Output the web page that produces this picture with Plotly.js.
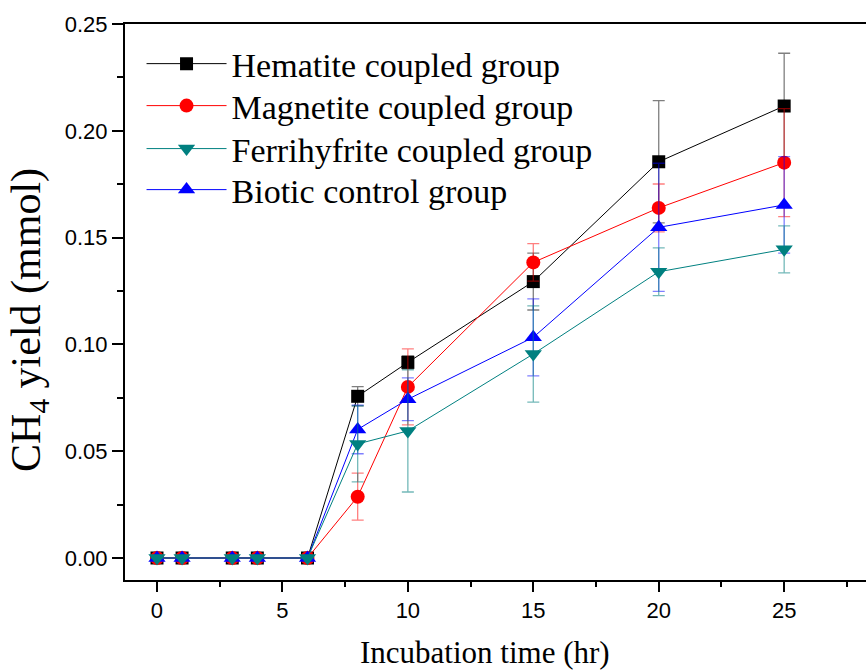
<!DOCTYPE html>
<html>
<head>
<meta charset="utf-8">
<script src="https://cdn.plot.ly/plotly-3.0.1.min.js"></script>
<style>
html,body{margin:0;padding:0;overflow:hidden;background:#fff;}
#chart{width:880px;height:671px;}
</style>
</head>
<body>
<div id="chart"></div>
<script>
// Incubation time (hr)
const time = [0, 1, 3, 4, 6, 8, 10, 15, 20, 25];

// CH4 yield (mmol)
const hematite    = [0, 0, 0, 0, 0, 0.0757, 0.0916, 0.1294, 0.1855, 0.2116];
const hematiteErr = [0, 0, 0, 0, 0, 0.0045, 0.0030, 0.0133, 0.0286, 0.0247];

const magnetite    = [0, 0, 0, 0, 0, 0.0287, 0.0801, 0.1384, 0.1639, 0.1851];
const magnetiteErr = [0, 0, 0, 0, 0, 0.0110, 0.0178, 0.0088, 0.0112, 0.0253];

const ferrihydrite    = [0, 0, 0, 0, 0, 0.0534, 0.0595, 0.0955, 0.1340, 0.1445];
const ferrihydriteErr = [0, 0, 0, 0, 0, 0.0178, 0.0286, 0.0225, 0.0112, 0.0110];

const biotic    = [0, 0, 0, 0, 0, 0.0602, 0.0743, 0.1033, 0.1548, 0.1653];
const bioticErr = [0, 0, 0, 0, 0, 0.0114, 0.0100, 0.0180, 0.0300, 0.0226];

const names = ["Hematite coupled group", "Magnetite coupled group", "Ferrihyfrite coupled group", "Biotic control group"];

function trace(y, err, name, color, errColor, symbol, size, legendId) {
  return {
    x: time, y: y, name: name, type: "scatter", mode: "lines+markers",
    line: {color: color, width: 1},
    marker: {color: color, symbol: symbol, size: size},
    error_y: {type: "data", array: err, visible: true, color: errColor, thickness: 1.3, width: 6},
    legend: legendId
  };
}

const data = [
  trace(hematite, hematiteErr, names[0], "#000000", "rgba(0,0,0,0.5)", "square", 13, "legend"),
  trace(magnetite, magnetiteErr, names[1], "#ff0000", "rgba(255,0,0,0.5)", "circle", 14, "legend2"),
  trace(biotic, bioticErr, names[3], "#0000ff", "rgba(0,0,255,0.5)", "triangle-up", 15, "legend4"),
  trace(ferrihydrite, ferrihydriteErr, names[2], "#008080", "rgba(0,128,128,0.55)", "triangle-down", 15, "legend3")
];

const tickFont = {family: "Liberation Sans, Arial, sans-serif", size: 22, color: "#000"};
const serif = "Liberation Serif, Times New Roman, serif";

function legendAt(yPaper) {
  return {
    x: 0.0219, y: yPaper, xanchor: "left", yanchor: "middle",
    font: {family: serif, size: 34, color: "#000"},
    bgcolor: "rgba(0,0,0,0)", itemwidth: 80, borderwidth: 0
  };
}

const layout = {
  width: 880, height: 671,
  margin: {l: 125, r: 0, t: 24, b: 91},
  paper_bgcolor: "#fff", plot_bgcolor: "#fff",
  showlegend: true,
  legend: legendAt(0.928),
  legend2: legendAt(0.8525),
  legend3: legendAt(0.7752),
  legend4: legendAt(0.7014),
  xaxis: {
    range: [-1.275, 28.82], showgrid: false, zeroline: false,
    showline: true, linecolor: "#000", linewidth: 2, mirror: true,
    ticks: "outside", ticklen: 10, tickwidth: 2, tickcolor: "#000",
    tick0: 0, dtick: 5, tickfont: tickFont,
    minor: {ticks: "outside", ticklen: 5, tickwidth: 2, tickcolor: "#000", dtick: 2.5, showgrid: false}
  },
  yaxis: {
    range: [-0.0103, 0.25], showgrid: false, zeroline: false,
    showline: true, linecolor: "#000", linewidth: 2, mirror: true,
    ticks: "outside", ticklen: 11, tickwidth: 2, tickcolor: "#000",
    tick0: 0, dtick: 0.05, tickformat: ".2f", tickfont: tickFont,
    minor: {ticks: "outside", ticklen: 6, tickwidth: 2, tickcolor: "#000", dtick: 0.025, showgrid: false}
  },
  annotations: [
    {text: "Incubation time (hr)", xref: "paper", yref: "paper", x: 0.4768, y: -0.131,
     xanchor: "center", yanchor: "middle", showarrow: false,
     font: {family: serif, size: 31, color: "#000"}},
    {text: "CH<sub>4</sub> yield (mmol)", xref: "paper", yref: "paper", x: -0.1272, y: 0.4676,
     xanchor: "center", yanchor: "middle", showarrow: false, textangle: -90,
     font: {family: serif, size: 42, color: "#000"}}
  ]
};

Plotly.newPlot("chart", data, layout, {displayModeBar: false, staticPlot: true});
</script>
</body>
</html>
